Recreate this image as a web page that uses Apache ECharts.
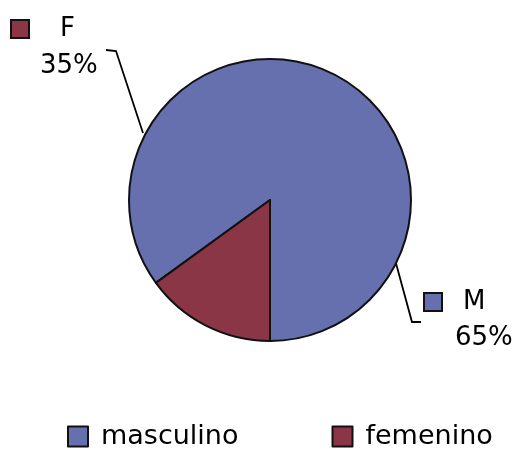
<!DOCTYPE html>
<html>
<head>
<meta charset="utf-8">
<script src="https://cdn.jsdelivr.net/npm/echarts@6/dist/echarts.min.js"></script>
<style>
  html, body { margin: 0; padding: 0; background: #fff; }
  #chart { width: 515px; height: 449px; }
</style>
</head>
<body>
<div id="chart"></div>
<script>
// slice sizes as drawn (the printed labels say otherwise)
const categories = ['masculino', 'femenino'];
const shortNames = ['M', 'F'];
const values = [85, 15];
const pctLabels = ['65%', '35%'];
const colors = ['#6670ae', '#8a3647'];

const FONT = 'DejaVu Sans';

// where each label sits and how its leader line runs
const labelSpots = [
  { x: 425, y: 289, line: [[394, 256], [412, 322], [421, 322]] },
  { x: 12, y: 16, line: [[143, 133], [116, 51], [106, 50]] }
];

const chart = echarts.init(document.getElementById('chart'), null, { renderer: 'canvas' });

chart.setOption({
  backgroundColor: '#fff',
  animation: false,
  color: colors,
  legend: {
    data: categories,
    left: 62,
    top: 418,
    icon: 'rect',
    itemWidth: 20,
    itemHeight: 20,
    itemGap: 93,
    itemStyle: { borderColor: '#111', borderWidth: 2 },
    textStyle: { fontFamily: FONT, fontSize: 27, color: '#000', padding: [0, 0, 0, 8] }
  },
  series: [{
    type: 'pie',
    center: [270, 200],
    radius: 141,
    startAngle: -90,
    clockwise: false,
    itemStyle: { borderColor: '#111', borderWidth: 2 },
    label: {
      show: true,
      position: 'outside',
      formatter: p => '{box' + p.dataIndex + '|}{name' + p.dataIndex + '|' + shortNames[p.dataIndex] + '}\n{pct' + p.dataIndex + '|' + pctLabels[p.dataIndex] + '}',
      rich: {
        box0: { width: 16, height: 16, backgroundColor: colors[0], borderColor: '#111', borderWidth: 2 },
        name0: { fontFamily: FONT, fontSize: 26, color: '#000', padding: [0, 0, 0, 22] },
        pct0: { fontFamily: FONT, fontSize: 26, color: '#000', padding: [10, 0, 0, 30] },
        box1: { width: 16, height: 16, backgroundColor: colors[1], borderColor: '#111', borderWidth: 2 },
        name1: { fontFamily: FONT, fontSize: 26, color: '#000', padding: [0, 0, 0, 32] },
        pct1: { fontFamily: FONT, fontSize: 26, color: '#000', padding: [11, 0, 0, 28] }
      }
    },
    labelLine: { show: true, lineStyle: { color: '#000', width: 1.8 } },
    labelLayout: p => {
      const s = labelSpots[p.dataIndex];
      return { x: s.x, y: s.y, align: 'left', verticalAlign: 'top', labelLinePoints: s.line };
    },
    data: categories.map((c, i) => ({ name: c, value: values[i] }))
  }]
});
</script>
</body>
</html>
